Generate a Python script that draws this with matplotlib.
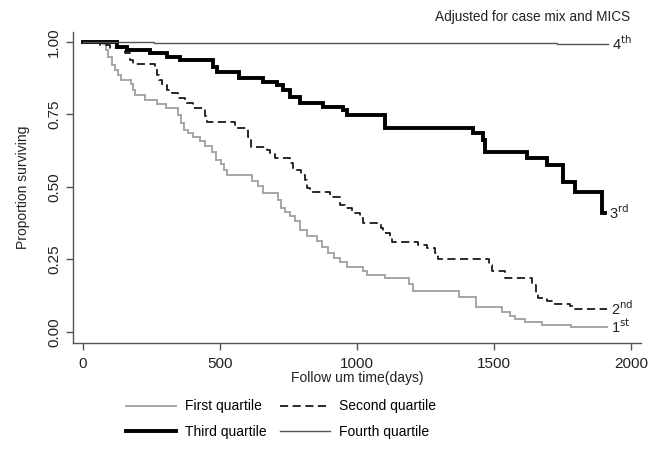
import matplotlib
matplotlib.use("Agg")
import matplotlib.pyplot as plt

plt.rcParams['font.family'] = ['Liberation Sans', 'DejaVu Sans']

# ---- data ----
q1_days = [0, 71, 82, 90, 104, 115, 126, 137, 174, 181, 188, 225, 269, 302, 346, 357, 368, 382,
           400, 426, 444, 470, 484, 503, 514, 525, 616, 638, 656, 711, 722, 737, 755, 773, 792,
           817, 854, 872, 894, 916, 938, 963, 1022, 1036, 1102, 1190, 1205, 1373, 1435, 1530,
           1559, 1577, 1614, 1676, 1782, 1914]
q1_surv = [1.0, 0.993, 0.972, 0.948, 0.921, 0.903, 0.886, 0.869, 0.855, 0.834, 0.817, 0.800,
           0.786, 0.772, 0.748, 0.721, 0.697, 0.686, 0.672, 0.659, 0.641, 0.621, 0.593, 0.579,
           0.559, 0.541, 0.521, 0.503, 0.479, 0.455, 0.428, 0.414, 0.400, 0.383, 0.352, 0.331,
           0.314, 0.293, 0.272, 0.255, 0.241, 0.224, 0.210, 0.197, 0.186, 0.166, 0.141, 0.121,
           0.086, 0.069, 0.055, 0.045, 0.034, 0.024, 0.017, 0.017]

q2_days = [0, 60, 97, 152, 170, 181, 261, 269, 278, 287, 305, 324, 346, 371, 402, 444, 452, 554,
           601, 612, 671, 682, 700, 755, 766, 795, 810, 817, 828, 901, 938, 956, 982, 1011, 1022,
           1088, 1095, 1121, 1129, 1224, 1256, 1285, 1296, 1483, 1494, 1541, 1640, 1655, 1662,
           1695, 1716, 1779, 1790, 1914]
q2_surv = [1.0, 0.990, 0.979, 0.962, 0.938, 0.924, 0.910, 0.886, 0.869, 0.852, 0.834, 0.824,
           0.807, 0.790, 0.772, 0.745, 0.724, 0.703, 0.672, 0.638, 0.628, 0.617, 0.600, 0.583,
           0.559, 0.541, 0.524, 0.497, 0.483, 0.466, 0.438, 0.428, 0.410, 0.393, 0.376, 0.359,
           0.341, 0.328, 0.310, 0.300, 0.290, 0.272, 0.252, 0.231, 0.210, 0.186, 0.162, 0.134,
           0.117, 0.107, 0.097, 0.090, 0.079, 0.079]

q3_days = [0, 122, 159, 243, 305, 353, 473, 488, 571, 656, 707, 729, 755, 792, 876, 949, 963,
           1102, 1424, 1460, 1467, 1621, 1694, 1753, 1797, 1896, 1906]
q3_surv = [1.0, 0.983, 0.972, 0.962, 0.948, 0.938, 0.914, 0.897, 0.876, 0.862, 0.852, 0.834,
           0.810, 0.790, 0.776, 0.766, 0.748, 0.703, 0.686, 0.662, 0.621, 0.600, 0.576, 0.517,
           0.483, 0.410, 0.410]

q4_days = [0, 260, 920, 1730, 1918]
q4_surv = [1.0, 0.997, 0.995, 0.992, 0.992]

series_labels = ["First quartile", "Second quartile", "Third quartile", "Fourth quartile"]
end_labels = [r"1$^{\mathrm{st}}$", r"2$^{\mathrm{nd}}$", r"3$^{\mathrm{rd}}$", r"4$^{\mathrm{th}}$"]
x_ticks = [0, 500, 1000, 1500, 2000]
y_ticks = [0.0, 0.25, 0.5, 0.75, 1.0]
y_ticklabels = ["0.00", "0.25", "0.50", "0.75", "1.00"]

# ---- figure ----
fig = plt.figure(figsize=(6.61, 4.5), dpi=100)
ax = fig.add_axes([0.110, 0.2385, 0.860, 0.6905])

styles = [
    dict(color="#a6a6a6", lw=1.4, ls="-"),
    dict(color="#1a1a1a", lw=1.3, ls=(0, (4.5, 2.5))),
    dict(color="#000000", lw=2.8, ls="-"),
    dict(color="#555555", lw=1.0, ls="-"),
]
data = [(q1_days, q1_surv), (q2_days, q2_surv), (q3_days, q3_surv), (q4_days, q4_surv)]

handles = []
for (d, s), st, lab, el in zip(data, styles, series_labels, end_labels):
    h, = ax.step(d, s, where="post", label=lab, solid_joinstyle="miter", **st)
    handles.append(h)
    ax.annotate(el, xy=(d[-1], s[-1]), xytext=(3, 0), textcoords="offset points",
                ha="left", va="center", fontsize=10.5, color="#222222")

ax.set_xlim(-38, 2038)
ax.set_ylim(-0.037, 1.034)
ax.set_xticks(x_ticks)
ax.set_yticks(y_ticks)
ax.set_yticklabels(y_ticklabels, rotation=90, va="center")
for side in ["top", "right"]:
    ax.spines[side].set_visible(False)
for side in ["left", "bottom"]:
    ax.spines[side].set_color("#555555")
    ax.spines[side].set_linewidth(1.0)
ax.tick_params(axis="both", direction="out", length=5, width=1.0, color="#555555",
               labelsize=11, labelcolor="#222222")
ax.tick_params(axis="x", pad=5)
ax.set_xlabel("Follow um time(days)", fontsize=10, color="#222222", labelpad=0)
ax.set_ylabel("Proportion surviving", fontsize=10, color="#222222", labelpad=12)

fig.text(0.805, 0.962, "Adjusted for case mix and MICS", ha="center", va="center",
         fontsize=9.8, color="#222222")

# row-wise order: First, Second / Third, Fourth
leg_handles = [handles[0], handles[2], handles[1], handles[3]]
leg_labels = [series_labels[0], series_labels[2], series_labels[1], series_labels[3]]
fig.legend(leg_handles, leg_labels, loc="center", bbox_to_anchor=(0.425, 0.069), ncol=2,
           frameon=False, fontsize=10, handlelength=3.6, handletextpad=0.6,
           columnspacing=1.0, labelspacing=0.8)

fig.savefig("out.png", dpi=100)
